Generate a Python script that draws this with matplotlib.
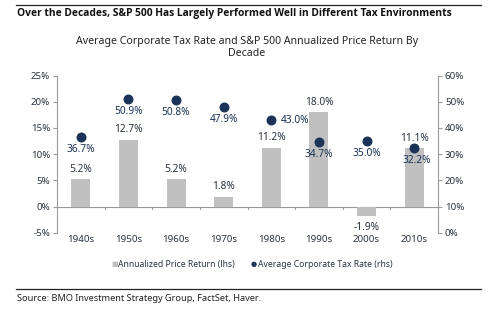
import matplotlib.pyplot as plt
import numpy as np

decades = ['1940s', '1950s', '1960s', '1970s', '1980s', '1990s', '2000s', '2010s']
price_return = [5.2, 12.7, 5.2, 1.8, 11.2, 18.0, -1.9, 11.1]
tax_rate = [36.7, 50.9, 50.8, 47.9, 43.0, 34.7, 35.0, 32.2]

bar_color = '#c0c0c0'
dot_color = '#1b3356'
text_color = '#2b3440'
axis_color = '#9a9a9a'

plt.rcParams['font.family'] = ['Noto Sans', 'DejaVu Sans']

fig = plt.figure(figsize=(5, 3.23), dpi=100)
ax = fig.add_axes([0.114, 0.2796, 0.762, 0.4864])
x = np.arange(len(decades))

ax.bar(x, price_return, width=0.4, color=bar_color, zorder=2)
ax.set_xlim(-0.5, 7.5)
ax.set_ylim(-5, 25)
ax.set_yticks(range(-5, 30, 5))
ax.set_yticklabels([f'{v}%' for v in range(-5, 30, 5)], fontsize=7, color=text_color)
ax.axhline(0, color=axis_color, lw=0.8, zorder=1)
for s in ['top', 'right', 'bottom']:
    ax.spines[s].set_visible(False)
ax.spines['left'].set_color(axis_color)
ax.spines['left'].set_linewidth(0.8)
ax.tick_params(axis='y', length=3, width=0.8, color=axis_color, pad=2)
ax.set_xticks([])
for i, d in enumerate(decades):
    ax.text(i, -6.3, d, ha='center', va='center', fontsize=7, color=text_color)
for xb in np.arange(0.5, 7.5, 1.0):
    ax.plot([xb, xb], [0, -0.5], color=axis_color, lw=0.8, clip_on=False)

# bar value labels
for i, v in enumerate(price_return):
    if v >= 0:
        ax.text(i, v + 0.9, f'{v:.1f}%', ha='center', va='bottom', fontsize=7.3, color=text_color)
    else:
        ax.text(i, v - 1.0, f'{v:.1f}%', ha='center', va='top', fontsize=7.3, color=text_color)

ax2 = ax.twinx()
ax2.set_ylim(0, 60)
ax2.set_yticks(range(0, 70, 10))
ax2.set_yticklabels([f'{v}%' for v in range(0, 70, 10)], fontsize=7, color=text_color)
for s in ['top', 'left', 'bottom']:
    ax2.spines[s].set_visible(False)
ax2.spines['right'].set_color(axis_color)
ax2.spines['right'].set_linewidth(0.8)
ax2.tick_params(axis='y', length=3, width=0.8, color=axis_color, pad=2)
ax2.scatter(x, tax_rate, s=38, color=dot_color, zorder=3)

# dot value labels (most sit beneath the marker)
offsets = {4: (7, 0, 'left', 'center'), 7: (2, -5, 'center', 'top')}
for i, v in enumerate(tax_rate):
    dx, dy, ha, va = offsets.get(i, (0, -5, 'center', 'top'))
    ax2.annotate(f'{v:.1f}%', (i, v), xytext=(dx, dy), textcoords='offset points',
                 ha=ha, va=va, fontsize=7.3, color=dot_color)

# legend
fig.text(0.222, 0.180, '■', fontsize=5, color=bar_color, ha='left', va='center')
fig.text(0.236, 0.180, 'Annualized Price Return (lhs)', fontsize=6.2, color=text_color, ha='left', va='center')
fig.text(0.502, 0.180, '●', fontsize=5, color=dot_color, ha='left', va='center')
fig.text(0.516, 0.180, 'Average Corporate Tax Rate (rhs)', fontsize=6.2, color=text_color, ha='left', va='center')

# titles, rules and source
fig.add_artist(plt.Line2D([0.032, 0.962], [0.985, 0.985], color='#222222', lw=0.9))
fig.text(0.034, 0.958, 'Over the Decades, S&P 500 Has Largely Performed Well in Different Tax Environments',
         fontsize=7.4, fontweight='bold', family=['Open Sans', 'DejaVu Sans'],
         color='#111111', ha='left', va='center')
fig.text(0.494, 0.852, 'Average Corporate Tax Rate and S&P 500 Annualized Price Return By\nDecade',
         fontsize=7.6, color='#222222', ha='center', va='center', linespacing=1.15)
fig.add_artist(plt.Line2D([0.032, 0.962], [0.105, 0.105], color='#222222', lw=0.9))
fig.text(0.034, 0.075, 'Source: BMO Investment Strategy Group, FactSet, Haver.',
         fontsize=6.6, color='#222222', ha='left', va='center')

fig.savefig('out.png', dpi=100)
